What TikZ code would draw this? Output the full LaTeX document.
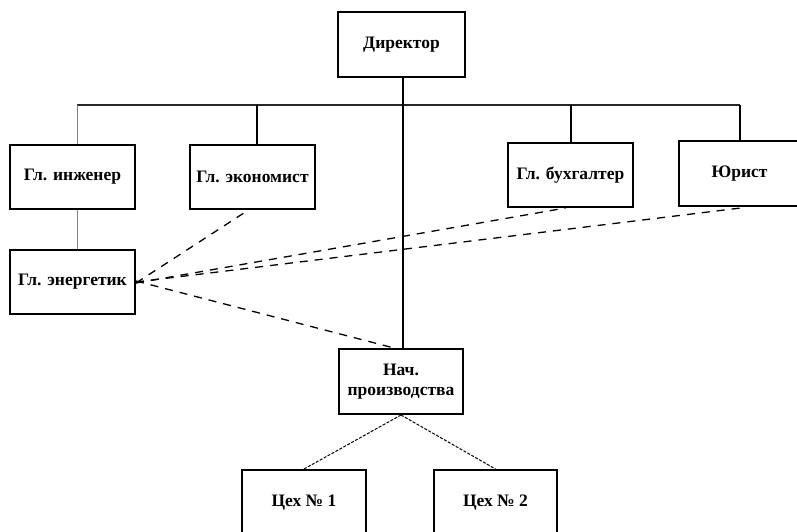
\documentclass[tikz,border=0pt]{standalone}
\usepackage{fontspec}
\setmainfont{Liberation Serif}
\usetikzlibrary{calc}

\tikzset{
  post/.style={draw, fill=white, line width=2pt, minimum width=125pt, minimum height=64pt,
    inner sep=2pt, align=center, font=\bfseries\fontsize{17.5}{20}\selectfont},
  link/.style={line width=2pt},
  busline/.style={black!85, line width=1.4pt},
  thinlink/.style={gray, line width=1pt},
  advice/.style={line width=1.3pt, dash pattern=on 8pt off 7pt},
  shop/.style={line width=1pt, dash pattern=on 3pt off 1.5pt}
}

\begin{document}
\begin{tikzpicture}[x=1pt,y=-1pt]
	\useasboundingbox (0,0) rectangle (797,532);
	% top level
	\node [post, minimum width=127pt, minimum height=65pt] (dir) at (401.5,44.5) {Директор};
	\coordinate (bus) at (402,105);
	% second level
	\node [post] (ing) at (72.5,177) {Гл. инженер};
	\node [post] (eco) at (252.5,177) {Гл. экономист};
	\node [post] (buh) at (570.5,175) {Гл. бухгалтер};
	\node [post, line width=2.8pt, minimum width=121pt, minimum height=65pt] (jur) at (739.5,173.5) {Юрист};
	\node [post] (ener) at (72.5,282) {Гл. энергетик};
	% production
	\node [post, minimum width=124pt, minimum height=65pt] (nach) at (401,381.5) {Нач.\\производства};
	\node [post, minimum width=124pt, minimum height=66pt] (ceh1) at (304,503) {Цех № 1};
	\node [post, minimum width=123pt, minimum height=66pt] (ceh2) at (495.5,503) {Цех № 2};
	% solid links
	\draw [busline] ([xshift=4.5pt]ing.north |- bus) -- (jur.north |- bus);
	\draw [link] ([xshift=1.5pt]dir.south) -- ([xshift=1.5pt]dir.south |- nach.north);
	\draw [thinlink] ([xshift=4.5pt]ing.north |- bus) -- ([xshift=4.5pt]ing.north);
	\draw [thinlink] ([xshift=4.5pt]ing.south) -- ([xshift=4.5pt]ener.north);
	\draw [link] ([xshift=4.5pt]eco.north |- bus) -- ([xshift=4.5pt]eco.north);
	\draw [link] (buh.north |- bus) -- (buh.north);
	\draw [link] (jur.north |- bus) -- (jur.north);
	% dashed links
	\draw [advice] ([yshift=-1pt]ener.east) -- ([xshift=-4pt]eco.south);
	\draw [advice] ([yshift=-1pt]ener.east) -- ([xshift=-5pt]buh.south);
	\draw [advice] (ener.east) -- ([xshift=6pt]jur.south);
	\draw [advice] ([yshift=1pt]ener.east) -- ([xshift=-7pt]nach.north);
	\draw [shop] (nach.south) -- (ceh1.north);
	\draw [shop] (nach.south) -- (ceh2.north);
\end{tikzpicture}
\end{document}
